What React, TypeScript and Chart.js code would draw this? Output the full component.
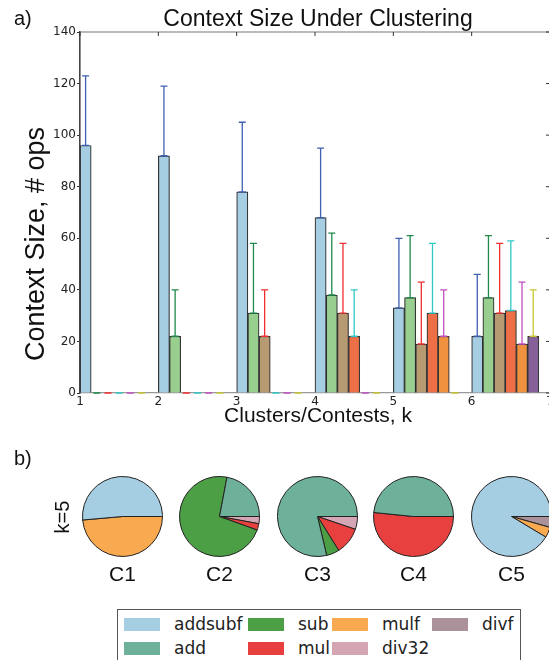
import React, { useEffect, useRef } from 'react';
import { Chart, registerables } from 'chart.js';

Chart.register(...registerables);

// ---------- data: panel a) ----------
const kValues = [1, 2, 3, 4, 5, 6];
const xTickLabels = ['1', '2', '3', '4', '5', '6', '7'];
const yTickValues = [0, 20, 40, 60, 80, 100, 120, 140];
const clusterNames = ['Cluster 1', 'Cluster 2', 'Cluster 3', 'Cluster 4', 'Cluster 5', 'Cluster 6'];

const cluster1Mean = [96, 92, 78, 68, 33, 22];
const cluster1Err = [27, 27, 27, 27, 27, 24];
const cluster2Mean = [0, 22, 31, 38, 37, 37];
const cluster2Err = [0, 18, 27, 24, 24, 24];
const cluster3Mean = [0, 0, 22, 31, 19, 31];
const cluster3Err = [0, 0, 18, 27, 24, 27];
const cluster4Mean = [0, 0, 0, 22, 31, 32];
const cluster4Err = [0, 0, 0, 18, 27, 27];
const cluster5Mean = [0, 0, 0, 0, 22, 19];
const cluster5Err = [0, 0, 0, 0, 18, 24];
const cluster6Mean = [0, 0, 0, 0, 0, 22];
const cluster6Err = [0, 0, 0, 0, 0, 18];

// ---------- data: panel b) ----------
const opLabels = ['addsubf', 'add', 'sub', 'mul', 'mulf', 'div32', 'divf'];
const pieNames = ['C1', 'C2', 'C3', 'C4', 'C5'];
const pieC1 = [51.4, 0, 0, 0, 48.6, 0, 0];
const pieC2 = [0, 22.0, 72.5, 2.6, 0, 2.9, 0];
const pieC3 = [0, 78.7, 5.2, 10.9, 0, 5.2, 0];
const pieC4 = [0, 48.4, 0, 51.6, 0, 0, 0];
const pieC5 = [91.4, 0, 0, 0, 4.2, 0, 4.4];

// ---------- styles ----------
const barFill = ['#a6cee3', '#98cf8f', '#b89a72', '#ee6e46', '#f0913f', '#866099'];
const errColor = ['#3f5fb0', '#1f8a4c', '#f03030', '#30c8c8', '#c050c0', '#c8c830'];
const opColors = ['#a6cee3', '#6db19b', '#4d9f45', '#e83f3f', '#f9a94f', '#d4a6b3', '#ab9199'];

const pieCenterX = [122, 219, 317, 413, 511];
const pieCenterY = 516;

const SANS = '"Liberation Sans", Arial, Helvetica, sans-serif';
const DEJAVU = '"DejaVu Sans", sans-serif';

const means = [cluster1Mean, cluster2Mean, cluster3Mean, cluster4Mean, cluster5Mean, cluster6Mean];
const errs = [cluster1Err, cluster2Err, cluster3Err, cluster4Err, cluster5Err, cluster6Err];
const pieValues = [pieC1, pieC2, pieC3, pieC4, pieC5];

const errorBarPlugin = {
  id: 'errorBars',
  afterDatasetsDraw(chart: any) {
    const ctx = chart.ctx;
    const y = chart.scales.y;
    chart.data.datasets.forEach((ds: any, i: number) => {
      const meta = chart.getDatasetMeta(i);
      meta.data.forEach((el: any, j: number) => {
        const v = ds.data[j].y;
        const e = ds.errors[j];
        const yb = y.getPixelForValue(v);
        const yt = y.getPixelForValue(v + e);
        ctx.save();
        ctx.strokeStyle = ds.errorColor;
        ctx.lineWidth = 1.3;
        ctx.beginPath();
        ctx.moveTo(el.x, yb);
        ctx.lineTo(el.x, yt);
        ctx.moveTo(el.x - 3.5, yt);
        ctx.lineTo(el.x + 3.5, yt);
        ctx.moveTo(el.x - 3.5, yb);
        ctx.lineTo(el.x + 3.5, yb);
        ctx.stroke();
        ctx.restore();
      });
    });
  },
};

const framePlugin = {
  id: 'frameAndText',
  afterDraw(chart: any) {
    const { ctx, chartArea: a } = chart;
    const x = chart.scales.x;
    const y = chart.scales.y;
    ctx.save();
    ctx.strokeStyle = '#777';
    ctx.lineWidth = 1.2;
    ctx.beginPath();
    ctx.moveTo(a.left, a.top);
    ctx.lineTo(a.right, a.top);
    ctx.lineTo(a.right, a.bottom);
    ctx.stroke();
    ctx.strokeStyle = '#333';
    ctx.lineWidth = 1;
    ctx.beginPath();
    xTickLabels.forEach((_, i) => {
      const px = x.getPixelForValue(i + 1);
      ctx.moveTo(px, a.top);
      ctx.lineTo(px, a.top + 4);
    });
    yTickValues.forEach((v) => {
      const py = y.getPixelForValue(v);
      ctx.moveTo(a.right, py);
      ctx.lineTo(a.right - 4, py);
    });
    ctx.stroke();

    ctx.fillStyle = '#111';
    ctx.textBaseline = 'alphabetic';
    ctx.textAlign = 'left';
    ctx.font = `20px ${SANS}`;
    ctx.fillText('a)', 14, 25);
    ctx.fillText('b)', 14, 465);

    ctx.textAlign = 'center';
    ctx.font = `23px ${SANS}`;
    ctx.fillText('Context Size Under Clustering', (a.left + a.right) / 2 + 3, 26);

    ctx.textBaseline = 'middle';
    ctx.font = `21px ${SANS}`;
    ctx.fillText('Clusters/Contests, k', (a.left + a.right) / 2 + 3, 416);

    ctx.save();
    ctx.translate(37, 244);
    ctx.rotate(-Math.PI / 2);
    ctx.font = `27px ${SANS}`;
    ctx.fillText('Context Size, # ops', 0, 0);
    ctx.restore();

    ctx.save();
    ctx.translate(63, pieCenterY + 1);
    ctx.rotate(-Math.PI / 2);
    ctx.font = `20px ${SANS}`;
    ctx.fillText('k=5', 0, 0);
    ctx.restore();

    ctx.font = `21px ${SANS}`;
    pieNames.forEach((n, i) => {
      ctx.fillText(n, pieCenterX[i] + 0.5, 575);
    });
    ctx.restore();
  },
};

function BarPanel() {
  const ref = useRef<HTMLCanvasElement | null>(null);
  useEffect(() => {
    const datasets = clusterNames.map((name, i) => ({
      label: name,
      data: kValues.map((k, j) => ({ x: k + (i + 0.5) / 7, y: means[i][j] })),
      errors: errs[i],
      errorColor: errColor[i],
      backgroundColor: barFill[i],
      borderColor: 'rgba(20,20,20,0.85)',
      borderWidth: 1.2,
      borderSkipped: 'start',
      grouped: false,
      barThickness: 11.19,
    }));
    const chart = new Chart(ref.current as HTMLCanvasElement, {
      type: 'bar',
      data: { datasets } as any,
      options: {
        responsive: false,
        maintainAspectRatio: false,
        devicePixelRatio: 1,
        animation: false,
        layout: { padding: { top: 32, left: 0, right: 0, bottom: 0 } },
        plugins: { legend: { display: false }, tooltip: { enabled: false }, title: { display: false } },
        scales: {
          x: {
            type: 'linear',
            min: 1,
            max: 7,
            offset: false,
            grid: { display: true, drawOnChartArea: false, drawTicks: false, offset: false },
            border: { display: true, color: '#999', width: 1.2 },
            ticks: {
              stepSize: 1,
              padding: 2,
              color: '#222',
              font: { family: 'DejaVu Sans', size: 12 },
              maxRotation: 0,
              autoSkip: false,
              callback: (v: any) => xTickLabels[Math.round(v) - 1] ?? '',
            },
            afterFit: (s: any) => {
              s.height = 660 - 393;
              s.paddingLeft = 0;
              s.paddingRight = 0;
            },
          },
          y: {
            type: 'linear',
            min: 0,
            max: 140,
            grid: { display: true, drawOnChartArea: false, drawTicks: true, tickLength: 3, color: '#333' },
            border: { display: true, color: '#444', width: 1.6 },
            ticks: {
              stepSize: 20,
              padding: 1,
              color: '#222',
              font: { family: 'DejaVu Sans', size: 12 },
            },
            afterFit: (s: any) => {
              s.width = 80;
              s.paddingTop = 0;
              s.paddingBottom = 0;
            },
          },
        },
      } as any,
      plugins: [errorBarPlugin, framePlugin],
    });
    return () => chart.destroy();
  }, []);
  return (
    <canvas
      ref={ref}
      width={550}
      height={660}
      style={{ position: 'absolute', left: 0, top: 0, width: 550, height: 660 }}
    />
  );
}

function PieChart({ values, cx }: { values: number[]; cx: number }) {
  const ref = useRef<HTMLCanvasElement | null>(null);
  useEffect(() => {
    const chart = new Chart(ref.current as HTMLCanvasElement, {
      type: 'pie',
      data: {
        labels: [...opLabels].reverse(),
        datasets: [
          {
            data: [...values].reverse(),
            backgroundColor: [...opColors].reverse(),
            borderColor: '#222',
            borderWidth: 1,
          },
        ],
      },
      options: {
        responsive: false,
        maintainAspectRatio: false,
        devicePixelRatio: 1,
        animation: false,
        rotation: 90,
        layout: { padding: 0 },
        plugins: { legend: { display: false }, tooltip: { enabled: false } },
      } as any,
    });
    return () => chart.destroy();
  }, []);
  return (
    <canvas
      ref={ref}
      width={81}
      height={81}
      style={{ position: 'absolute', left: cx - 40, top: pieCenterY - 40, width: 81, height: 81 }}
    />
  );
}

const legendSwatchX = [124, 248, 332, 432];
const legendTextX = [174, 298, 382, 482];
const legendRowY = [624, 648];

function Legend() {
  return (
    <>
      <div
        style={{
          position: 'absolute',
          left: 117,
          top: 609,
          width: 404,
          height: 70,
          border: '1px solid #555',
          boxSizing: 'border-box',
          background: '#fff',
        }}
      />
      {opLabels.map((lab, idx) => {
        const col = Math.floor(idx / 2);
        const row = idx % 2;
        return (
          <React.Fragment key={lab}>
            <div
              style={{
                position: 'absolute',
                left: legendSwatchX[col],
                top: legendRowY[row] - 6.5,
                width: 36,
                height: 13,
                background: opColors[idx],
              }}
            />
            <div
              style={{
                position: 'absolute',
                left: legendTextX[col],
                top: legendRowY[row] - 11,
                height: 22,
                lineHeight: '22px',
                fontFamily: DEJAVU,
                fontSize: 17,
                color: '#222',
                whiteSpace: 'nowrap',
              }}
            >
              {lab}
            </div>
          </React.Fragment>
        );
      })}
    </>
  );
}

export default function App() {
  return (
    <div
      style={{
        position: 'absolute',
        left: 0,
        top: 0,
        width: 549,
        height: 660,
        overflow: 'hidden',
        background: '#fff',
      }}
    >
      <BarPanel />
      {pieValues.map((v, i) => (
        <PieChart key={pieNames[i]} values={v} cx={pieCenterX[i]} />
      ))}
      <Legend />
    </div>
  );
}
